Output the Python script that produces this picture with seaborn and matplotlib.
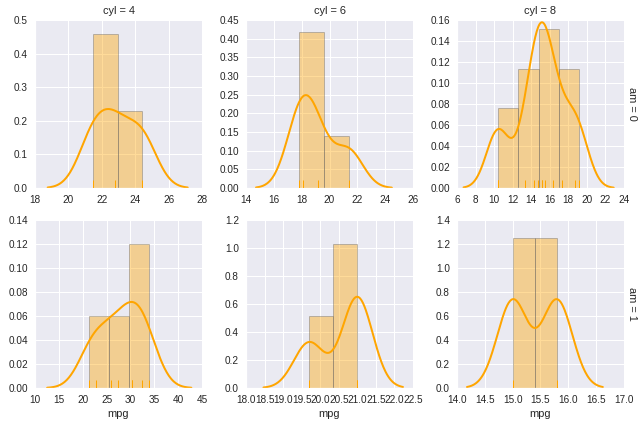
import warnings
warnings.filterwarnings("ignore")
import numpy as np
import pandas as pd
import matplotlib
matplotlib.use("Agg")
import matplotlib.pyplot as plt
from matplotlib.ticker import MaxNLocator
import seaborn as sns

# mtcars data
mpg = [21.0, 21.0, 22.8, 21.4, 18.7, 18.1, 14.3, 24.4, 22.8, 19.2, 17.8,
       16.4, 17.3, 15.2, 10.4, 10.4, 14.7, 32.4, 30.4, 33.9, 21.5, 15.5,
       15.2, 13.3, 19.2, 27.3, 26.0, 30.4, 15.8, 19.7, 15.0, 21.4]
cyl = [6, 6, 4, 6, 8, 6, 8, 4, 4, 6, 6, 8, 8, 8, 8, 8, 8, 4, 4, 4, 4, 8,
       8, 8, 8, 4, 4, 4, 8, 6, 8, 4]
am = [1, 1, 1, 0, 0, 0, 0, 0, 0, 0, 0, 0, 0, 0, 0, 0, 0, 1, 1, 1, 0, 0,
      0, 0, 0, 1, 1, 1, 1, 1, 1, 1]

df = pd.DataFrame({"mpg": mpg, "cyl": cyl, "am": am})

sns.set_theme(style="darkgrid", context="notebook")
plt.rcParams.update({
    "font.family": ["Liberation Sans", "DejaVu Sans"],
    "xtick.labelsize": 10,
    "ytick.labelsize": 10,
    "axes.labelsize": 11,
    "axes.titlesize": 11,
    "xtick.major.size": 0,
    "ytick.major.size": 0,
    "xtick.major.pad": 7,
    "ytick.major.pad": 7,
    "grid.linewidth": 1,
    "axes.autolimit_mode": "round_numbers",
    "axes.xmargin": 0,
    "axes.ymargin": 0,
    "figure.dpi": 72,
    "savefig.dpi": 72,
})


def scott_bw(kde):
    # statsmodels-style Scott bandwidth, as a factor of the data std
    x = np.asarray(kde.dataset).ravel()
    sd = np.std(x, ddof=1)
    iqr = (np.percentile(x, 75) - np.percentile(x, 25)) / 1.349
    a = min(sd, iqr) if iqr > 0 else sd
    bw = 1.059 * a * len(x) ** (-0.2)
    return bw / sd


g = sns.FacetGrid(df, row="am", col="cyl", sharex=False, sharey=False,
                  margin_titles=True, height=3, aspect=1)
g.map(sns.distplot, "mpg", rug=True, color="orange",
      hist_kws={"edgecolor": "0.4", "linewidth": 1},
      kde_kws={"lw": 2, "bw_method": scott_bw},
      rug_kws={"height": 0.05, "lw": 1.2, "alpha": 1,
               "expand_margins": False, "zorder": 3})

for ax in g.axes.flat:
    ax.xaxis.set_major_locator(MaxNLocator(nbins=9, steps=[1, 2, 5, 10]))
    ax.yaxis.set_major_locator(MaxNLocator(nbins=9, steps=[1, 2, 5, 10]))
    ax.set_ylabel("")
    ax.autoscale_view()

# the bottom-left panel's tallest bar sits just above 0.12 in the original
g.axes[1, 0].set_ylim(0, 0.14)

g.figure.set_size_inches(644 / 72, 426 / 72)
g.figure.subplots_adjust(left=35 / 644, right=624 / 644,
                         bottom=1 - 388 / 426, top=1 - 20 / 426,
                         wspace=0.263, hspace=0.19)
g.figure.savefig("out.png", dpi=72)
